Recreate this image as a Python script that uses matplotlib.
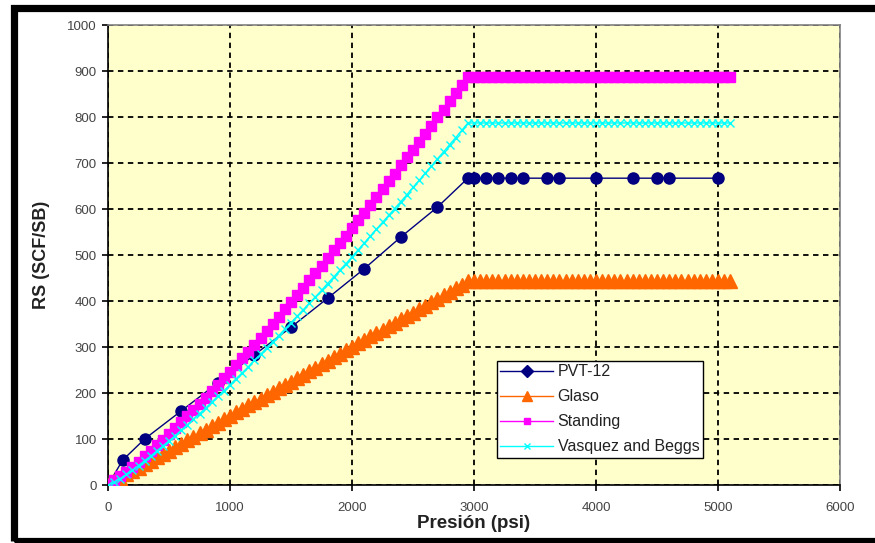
import matplotlib
matplotlib.use("Agg")
import matplotlib.pyplot as plt
from matplotlib.lines import Line2D
from matplotlib.patches import Rectangle

plt.rcParams["font.family"] = ["Liberation Sans", "DejaVu Sans"]

# PVT lab data
pvt_p = [0, 120, 300, 600, 900, 1200, 1500, 1800, 2100, 2400, 2700, 2950,
         3000, 3100, 3200, 3300, 3400, 3600, 3700, 4000, 4300, 4500, 4600, 5000]
pvt_rs = [0, 54, 100, 161, 222, 283, 343, 406, 470, 539, 604, 667,
          667, 667, 667, 667, 667, 667, 667, 667, 667, 667, 667, 667]

# correlation grid, 50 psi steps up to 5100 psi
corr_p = list(range(0, 5150, 50))

glaso_rs = [
    0, 8, 15, 23, 30, 38, 45, 53, 60, 68,
    75, 83, 90, 98, 105, 113, 120, 128, 135, 143,
    150, 158, 165, 173, 180, 188, 195, 203, 210, 218,
    225, 233, 240, 248, 255, 263, 270, 278, 285, 293,
    300, 308, 315, 323, 330, 338, 345, 353, 360, 368,
    375, 383, 390, 398, 405, 413, 420, 428, 435, 443,
    443, 443, 443, 443, 443, 443, 443, 443, 443, 443, 443, 443, 443, 443,
    443, 443, 443, 443, 443, 443, 443, 443, 443, 443, 443, 443, 443, 443,
    443, 443, 443, 443, 443, 443, 443, 443, 443, 443, 443, 443, 443, 443, 443,
]

standing_rs = [
    3, 11, 20, 29, 40, 51, 62, 74, 86, 98,
    110, 123, 136, 149, 162, 176, 190, 204, 218, 232,
    246, 261, 276, 290, 305, 320, 335, 351, 366, 382,
    397, 413, 429, 445, 461, 477, 493, 510, 526, 542,
    559, 576, 592, 609, 626, 643, 660, 677, 695, 712,
    729, 746, 764, 781, 799, 816, 834, 852, 870, 888,
    888, 888, 888, 888, 888, 888, 888, 888, 888, 888, 888, 888, 888, 888,
    888, 888, 888, 888, 888, 888, 888, 888, 888, 888, 888, 888, 888, 888,
    888, 888, 888, 888, 888, 888, 888, 888, 888, 888, 888, 888, 888, 888, 888,
]

vasquez_rs = [
    0, 6, 14, 23, 32, 42, 53, 63, 74, 85,
    96, 107, 119, 131, 143, 155, 167, 180, 193, 205,
    218, 231, 244, 257, 271, 284, 298, 311, 325, 339,
    353, 367, 381, 395, 409, 423, 438, 452, 467, 481,
    496, 511, 526, 541, 556, 571, 586, 601, 616, 631,
    647, 662, 678, 693, 709, 724, 740, 755, 771, 787,
    787, 787, 787, 787, 787, 787, 787, 787, 787, 787, 787, 787, 787, 787,
    787, 787, 787, 787, 787, 787, 787, 787, 787, 787, 787, 787, 787, 787,
    787, 787, 787, 787, 787, 787, 787, 787, 787, 787, 787, 787, 787, 787, 787,
]

x_ticks = [0, 1000, 2000, 3000, 4000, 5000, 6000]
y_ticks = [0, 100, 200, 300, 400, 500, 600, 700, 800, 900, 1000]

fig = plt.figure(figsize=(8.75, 5.43), dpi=100)
ax = fig.add_axes([108 / 875, 1 - 485 / 543, 732 / 875, 460 / 543])
ax.set_facecolor("#FFFFCC")

ax.plot(pvt_p, pvt_rs, color="#000080", lw=1.0, marker="o", ms=8,
        label="PVT-12", zorder=3)
ax.plot(corr_p, glaso_rs, color="#FF6600", lw=1.0, marker="^", ms=10,
        mec="#FF6600", label="Glaso", zorder=4)
ax.plot(corr_p, standing_rs, color="#FF00FF", lw=1.0, marker="s", ms=6.5,
        mec="#FF00FF", label="Standing", zorder=5)
ax.plot(corr_p, vasquez_rs, color="#00FFFF", lw=1.0, marker="x", ms=6,
        mew=1.0, label="Vasquez and Beggs", zorder=6)

ax.set_xlim(0, 6000)
ax.set_ylim(0, 1000)
ax.set_xticks(x_ticks)
ax.set_yticks(y_ticks)
ax.tick_params(axis="both", direction="out", length=4, width=1.2,
               labelsize=9.5, labelcolor="#444444")
ax.tick_params(axis="x", pad=8)
ax.tick_params(axis="y", pad=4)

ax.grid(True, color="black", lw=1.3, linestyle=(0, (3, 2.5)))
ax.set_axisbelow(True)

for side in ("left", "bottom"):
    ax.spines[side].set_color("black")
    ax.spines[side].set_linewidth(1.2)
for side in ("top", "right"):
    ax.spines[side].set_color("#808080")
    ax.spines[side].set_linewidth(1.2)

ax.set_xlabel("Presión (psi)", fontsize=13.5, fontweight="bold", color="#222222")
ax.set_ylabel("RS (SCF/SB)", fontsize=13, fontweight="bold", color="#222222")
ax.xaxis.set_label_coords(0.5, -0.066)
ax.yaxis.set_label_coords(-0.079, 0.5)

handles = [
    Line2D([], [], color="#000080", marker="D", ms=6, lw=1.0),
    Line2D([], [], color="#FF6600", marker="^", ms=7, lw=1.0),
    Line2D([], [], color="#FF00FF", marker="s", ms=4, lw=1.0),
    Line2D([], [], color="#00FFFF", marker="x", ms=5, lw=1.0),
]
labels = ["PVT-12", "Glaso", "Standing", "Vasquez and Beggs"]
leg = ax.legend(handles, labels, loc="upper left", bbox_to_anchor=(0.531, 0.2696),
                borderaxespad=0, frameon=True, fancybox=False, framealpha=1,
                edgecolor="black", fontsize=11.5, handlelength=3.3,
                handletextpad=0.3, labelspacing=0.62, borderpad=0.22)
leg.get_frame().set_linewidth(1.0)
for t in leg.get_texts():
    t.set_color("#222222")

# thick black border round the figure
fig.add_artist(Rectangle((13.5 / 875, 1 - 541 / 543), 1.1, (541 - 8) / 543,
                         transform=fig.transFigure, fill=False,
                         edgecolor="black", lw=5.2, clip_on=False))

fig.savefig("out.png", dpi=100)
